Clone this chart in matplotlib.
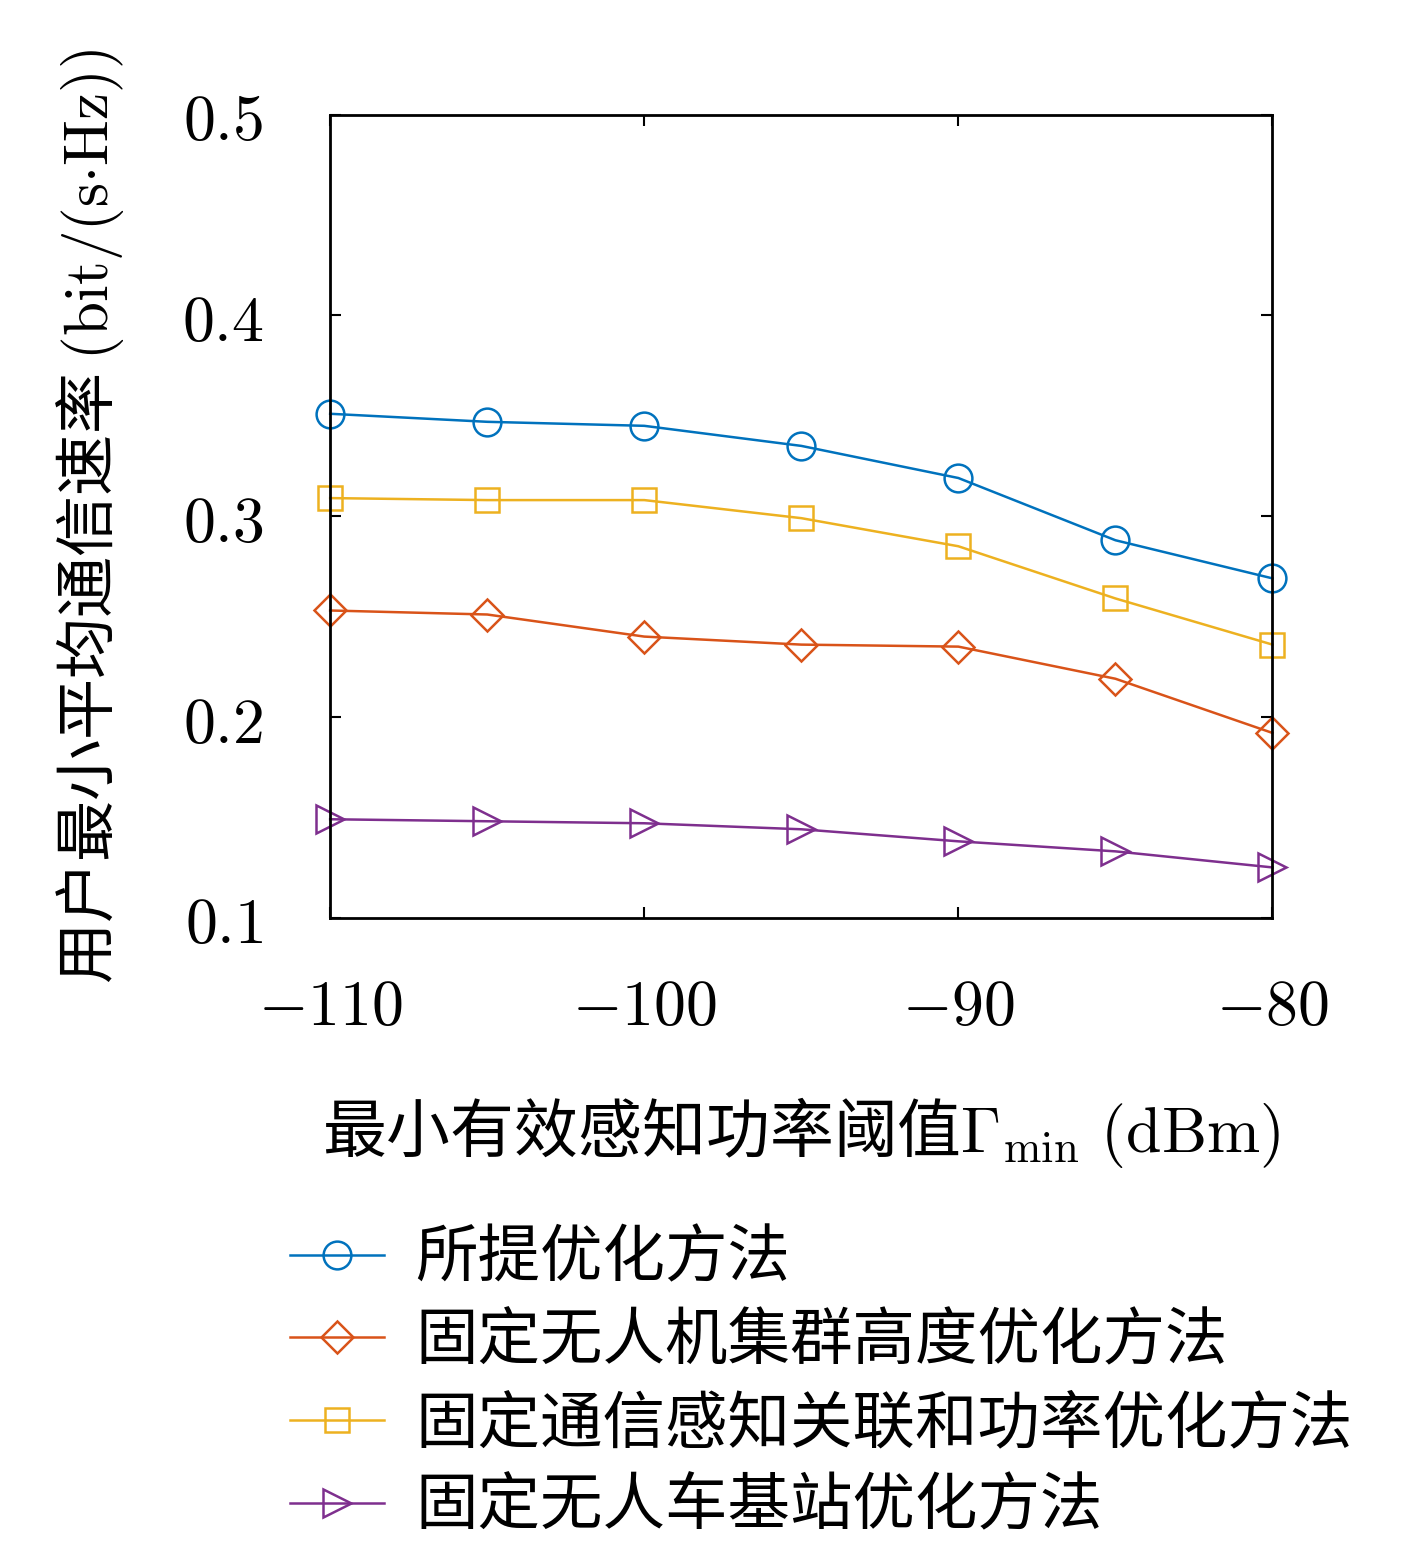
import matplotlib
matplotlib.use("Agg")
import matplotlib.pyplot as plt

plt.rcParams['font.family'] = ['Noto Sans CJK SC', 'DejaVu Sans']
plt.rcParams['mathtext.fontset'] = 'cm'

x = [-110, -105, -100, -95, -90, -85, -80]
proposed = [0.351, 0.347, 0.345, 0.335, 0.319, 0.288, 0.269]
fixed_height = [0.253, 0.251, 0.240, 0.236, 0.235, 0.219, 0.192]
fixed_assoc = [0.309, 0.308, 0.308, 0.299, 0.285, 0.259, 0.236]
fixed_bs = [0.149, 0.148, 0.147, 0.144, 0.138, 0.133, 0.125]
labels = ['所提优化方法', '固定无人机集群高度优化方法', '固定通信感知关联和功率优化方法', '固定无人车基站优化方法']
xticks = [-110, -100, -90, -80]
yticks = [0.1, 0.2, 0.3, 0.4, 0.5]

fig = plt.figure(figsize=(14.17, 15.5), dpi=100)
ax = fig.add_axes([0.233, 0.408, 0.665, 0.518])
series = [(proposed, '#0072BD', 'o', 20), (fixed_height, '#D95319', 'D', 16),
          (fixed_assoc, '#EDB120', 's', 17), (fixed_bs, '#7E2F8E', '>', 20)]
for (y, c, m, ms), lab in zip(series, labels):
    ax.plot(x, y, color=c, marker=m, markersize=ms, markerfacecolor='none',
            markeredgewidth=1.8, linewidth=1.8, label=lab, clip_on=False)
ax.set_xlim(-110, -80)
ax.set_ylim(0.1, 0.5)
ax.set_xticks(xticks)
ax.set_xticklabels([r'$-%d$' % abs(v) for v in xticks], fontsize=46)
ax.set_yticks(yticks)
ax.set_yticklabels([r'$%.1f$' % v for v in yticks], fontsize=46)
ax.tick_params(direction='in', top=True, right=True, length=8, width=1.5)
ax.tick_params(axis='x', pad=40)
ax.tick_params(axis='y', pad=48)
for s in ax.spines.values():
    s.set_linewidth(2)
ax.set_xlabel(r'最小有效感知功率阈值$\mathit{\Gamma}_{\rm min}\ {\rm (dBm)}$', fontsize=46, labelpad=40)
ax.set_ylabel(r'用户最小平均通信速率 ${\rm (bit/(s{\cdot}Hz))}$', fontsize=44, labelpad=40)
fig.legend(loc='upper left', bbox_to_anchor=(0.165, 0.245), frameon=False, fontsize=45,
           handlelength=1.5, labelspacing=0.3, handletextpad=0.5)
fig.savefig('out.png', dpi=100)
